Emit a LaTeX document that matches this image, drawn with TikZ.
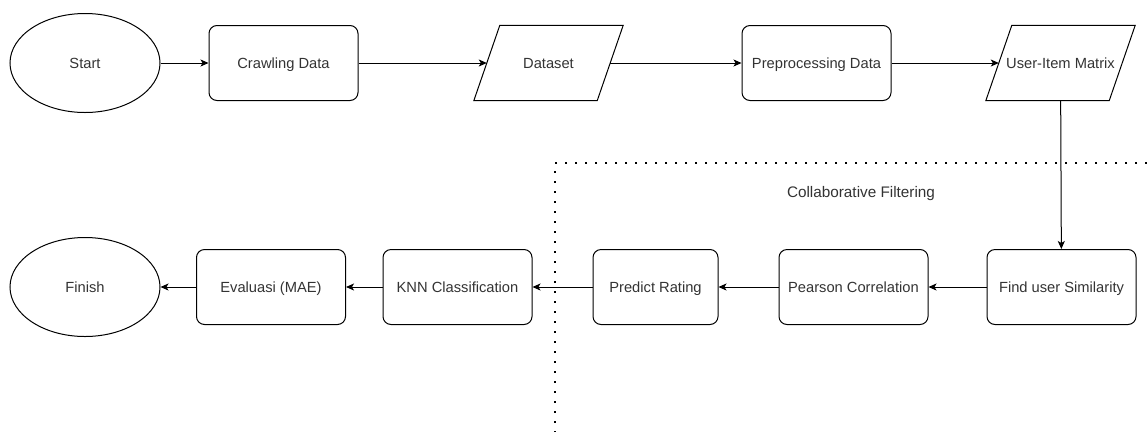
\documentclass[tikz,border=0pt]{standalone}
\usepackage{fontspec}
\setmainfont{Liberation Sans}
\usetikzlibrary{shapes.geometric,arrows.meta}
\definecolor{txtgray}{RGB}{51,51,51}

\begin{document}
\begin{tikzpicture}
[x=1pt,y=-1pt,
  lineDecorate/.style={-{Stealth[length=8pt,width=7pt,inset=2pt]},line width=1pt},%
  textDecorate/.style={text=txtgray,font=\fontsize{14.7}{17}\selectfont,
    text height=10.5pt,text depth=0pt},%
  procDecorate/.style={shape=rectangle,rounded corners=8pt,draw,line width=1pt,
    minimum width=149pt,minimum height=75pt,inner sep=0pt,textDecorate},%
  termDecorate/.style={shape=ellipse,draw,line width=1pt,
    minimum width=150pt,minimum height=99pt,inner sep=0pt,textDecorate},%
  dataDecorate/.style={shape=rectangle,minimum width=123pt,minimum height=75pt,
    inner sep=0pt,textDecorate},%
  dotDecorate/.style={line width=1.6pt,dash pattern=on 1.6pt off 8.4pt,line cap=butt}]
\useasboundingbox (0,0) rectangle (1147,432);
%% terminals
\node (start) at (85,63) [termDecorate] {Start};
\node (finish) at (85,287) [termDecorate] {Finish};
%% data
\node (dataset) at (548.5,63) [dataDecorate] {Dataset};
\node (uim) at (1060.5,63) [dataDecorate] {User-Item Matrix};
\foreach \nodename in {dataset,uim}
{
  \draw[line width=1pt,line join=miter] ([xshift=-13pt]\nodename.south west) -- ([xshift=13pt]\nodename.north west)
    -- ([xshift=13pt]\nodename.north east) -- ([xshift=-13pt]\nodename.south east) -- cycle;
}
%% processes
\foreach \nodename/\x/\y/\txt in {crawl/283.5/63/{Crawling Data},
  preproc/816.5/63/{Preprocessing Data},
  findsim/1061.5/287/{Find user Similarity},
  pearson/853.5/287/{Pearson Correlation},
  knn/457.5/287/{KNN Classification},
  evalmae/271/287/{Evaluasi (MAE)}}
{
  \node (\nodename) at (\x,\y) [procDecorate] {\txt};
}
\node (predict) at (655.5,287) [procDecorate,minimum width=125pt] {Predict Rating};
%% collaborative filtering area
\draw[dotDecorate] (1147,163) -- (555,163) -- (555,432);
\node (cflabel) at (861,192) [textDecorate,font=\fontsize{15.3}{18}\selectfont] {Collaborative Filtering};
%% edges
\path
\foreach \startnode/\endnode in {start/crawl, crawl/dataset, dataset/preproc, preproc/uim,
  uim/findsim, findsim/pearson, pearson/predict, predict/knn, knn/evalmae, evalmae/finish}
{
  (\startnode) edge[lineDecorate] (\endnode)
};
\end{tikzpicture}
\end{document}
